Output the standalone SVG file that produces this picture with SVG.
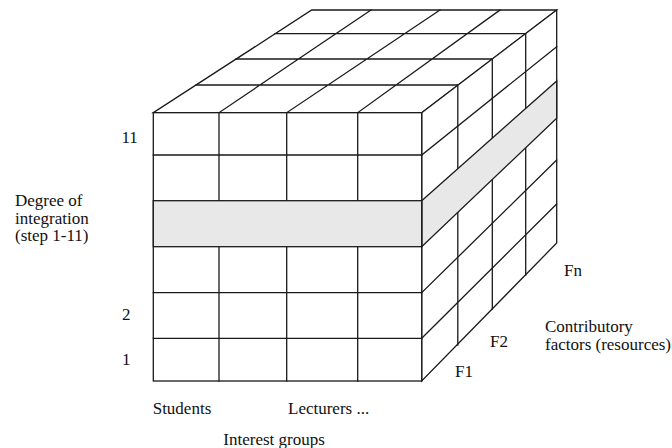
<svg xmlns="http://www.w3.org/2000/svg" width="672" height="448" viewBox="0 0 672 448">
<style>
.ln{stroke:#1a1a1a;stroke-width:1.3;fill:none;stroke-linecap:square}
.face{stroke:#1a1a1a;stroke-width:1.3;fill:#ffffff;stroke-linejoin:miter}
.band{stroke:#1a1a1a;stroke-width:1.3;fill:#e8e8e8}
text{font-family:'Liberation Serif','DejaVu Serif',serif;font-size:17px;fill:#111}
</style>
<rect width="672" height="448" fill="#ffffff"/>
<g id="top-face">
<polygon class="face" points="153.3,112.7 421.7,112.7 556.7,10 311.7,10"/>
<path class="ln" d="M196,85 H457.8 M236,59 H492.3 M275,33.7 H525.7 M219,112.7 L371,10 M286.7,112.7 L440,10 M357.7,112.7 L500,10"/>
</g>
<g id="right-face">
<polygon class="face" points="421.7,112.7 556.7,10 556.7,243 421.7,381"/>
<path class="ln" d="M457.8,85.5 V345 M492.3,59 V309 M525.7,33.7 V275"/>
<path class="ln" d="M421.7,155 L556.7,46.7 M421.7,292.7 L556.7,160 M421.7,338.3 L556.7,204"/>
<polygon class="band" points="421.7,200.7 556.7,81 556.7,118.3 421.7,246.7"/>
</g>
<g id="front-face">
<rect class="face" x="153.3" y="112.7" width="268.4" height="268.3"/>
<path class="ln" d="M153.3,155 H421.7 M153.3,292.7 H421.7 M153.3,338.3 H421.7 M219,112.7 V381 M286.7,112.7 V381 M357.7,112.7 V381"/>
<rect class="band" x="153.3" y="200.7" width="268.4" height="46"/>
</g>
<g id="labels" font-family="'Liberation Serif', 'DejaVu Serif', serif">
<text x="121.5" y="143">11</text>
<text x="122" y="320">2</text>
<text x="122" y="365">1</text>
<text x="15" y="206" font-size="16.5">Degree of</text>
<text x="15" y="223.5" font-size="16.5">integration</text>
<text x="15" y="241" font-size="16.5">(step 1-11)</text>
<text x="152.7" y="413.5">Students</text>
<text x="288" y="413.5">Lecturers ...</text>
<text x="223.3" y="445">Interest groups</text>
<text x="564" y="276">Fn</text>
<text x="490" y="347">F2</text>
<text x="455" y="377">F1</text>
<text x="545" y="332">Contributory</text>
<text x="545" y="350">factors (resources)</text>
</g>
</svg>
